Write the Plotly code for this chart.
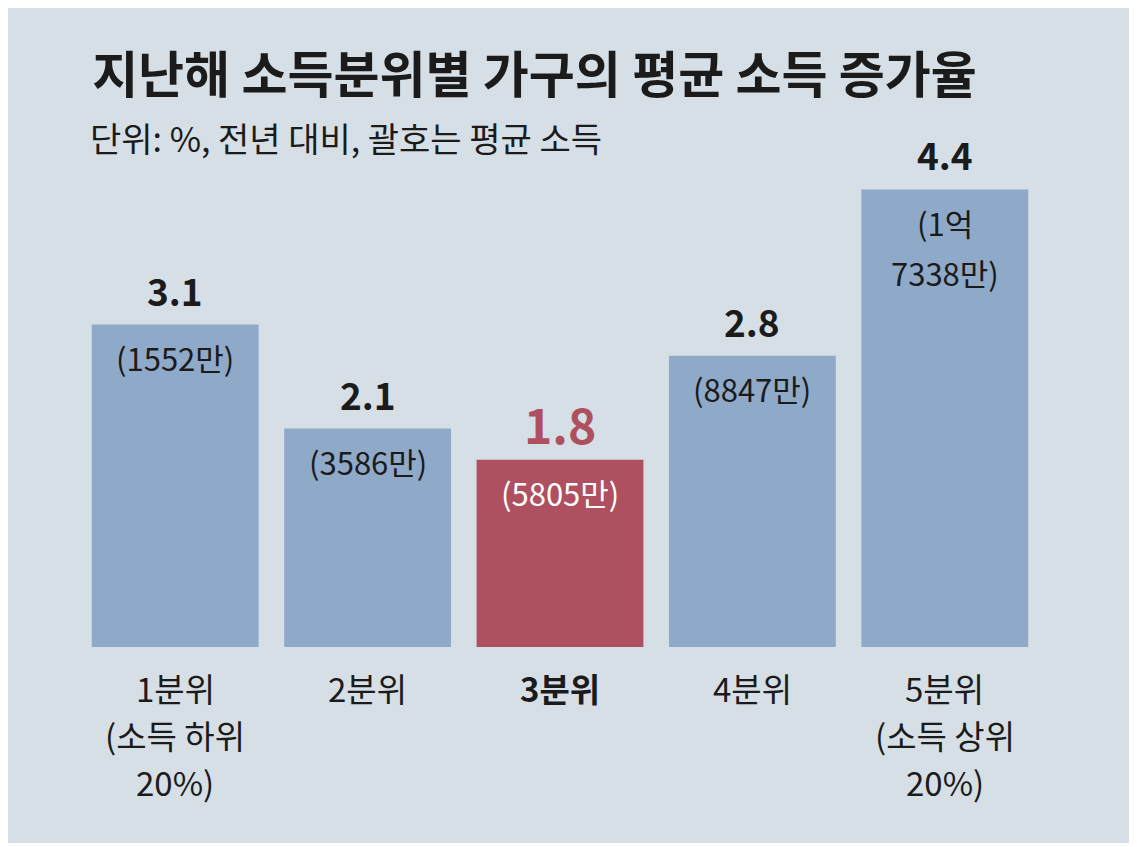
import plotly.graph_objects as go

# Chart data
categories = ['1분위', '2분위', '3분위', '4분위', '5분위']
category_notes = ['(소득 하위\n20%)', '', '', '', '(소득 상위\n20%)']
growth_rate = [3.1, 2.1, 1.8, 2.8, 4.4]
avg_income = ['(1552만)', '(3586만)', '(5805만)', '(8847만)', '(1억\n7338만)']
highlight = '3분위'

WIDTH = 1137
HEIGHT = 847
FONT = 'Noto Sans CJK KR'
BG = '#d6dfe6'
BLUE = '#8fa9c8'
RED = '#af5060'
INK = '#1b1b1b'

bar_colors = [RED if c == highlight else BLUE for c in categories]

fig = go.Figure()

fig.add_trace(go.Bar(
    x=categories,
    y=growth_rate,
    width=0.867,
    marker=dict(color=bar_colors, line=dict(width=0)),
    hoverinfo='skip',
    showlegend=False,
))

annotations = []
for cat, val, inc in zip(categories, growth_rate, avg_income):
    is_hl = cat == highlight
    # value above the bar
    annotations.append(dict(
        x=cat, y=val, xref='x', yref='y',
        text=f'<b>{val:.1f}</b>',
        showarrow=False, yanchor='middle', yshift=37 if is_hl else 35,
        font=dict(family=FONT, size=48 if is_hl else 37, color=RED if is_hl else INK),
    ))
    # average income inside the bar, one annotation per line
    for i, line in enumerate(inc.split('\n')):
        annotations.append(dict(
            x=cat, y=val, xref='x', yref='y',
            text=line,
            showarrow=False, yanchor='middle', yshift=-33 - 50 * i,
            font=dict(family=FONT, size=31, color='#ffffff' if is_hl else INK),
        ))

# category labels under the bars
for cat, note in zip(categories, category_notes):
    lines = [cat] + ([l for l in note.split('\n')] if note else [])
    for i, line in enumerate(lines):
        txt = f'<b>{line}</b>' if cat == highlight else line
        annotations.append(dict(
            x=cat, y=0, xref='x', yref='y',
            text=txt,
            showarrow=False, yanchor='middle', yshift=-41 - 47 * i,
            font=dict(family=FONT, size=33, color=INK),
        ))

# subtitle
annotations.append(dict(
    x=0.009, y=0.979, xref='paper', yref='paper',
    text='단위: %, 전년 대비, 괄호는 평균 소득',
    showarrow=False, xanchor='left', yanchor='middle',
    font=dict(family=FONT, size=34, color=INK),
))

fig.update_layout(
    width=WIDTH,
    height=HEIGHT,
    margin=dict(l=71, r=104, t=119, b=208),
    paper_bgcolor='#ffffff',
    plot_bgcolor='rgba(0,0,0,0)',
    title=dict(
        text='<b>지난해 소득분위별 가구의 평균 소득 증가율</b>',
        x=0.074, xref='container', xanchor='left',
        y=0.92, yref='container', yanchor='middle',
        font=dict(family=FONT, size=50, color=INK),
    ),
    xaxis=dict(
        range=[-0.5, 4.5],
        showticklabels=False,
        showgrid=False,
        showline=False,
        zeroline=False,
        fixedrange=True,
    ),
    yaxis=dict(
        range=[0, 5],
        visible=False,
        fixedrange=True,
    ),
    annotations=annotations,
    shapes=[dict(
        type='rect', xref='paper', yref='paper',
        x0=-0.08, x1=1.095, y0=-0.377, y1=1.25,
        fillcolor=BG, line=dict(width=0), layer='below',
    )],
)

fig.write_html('out.html')
